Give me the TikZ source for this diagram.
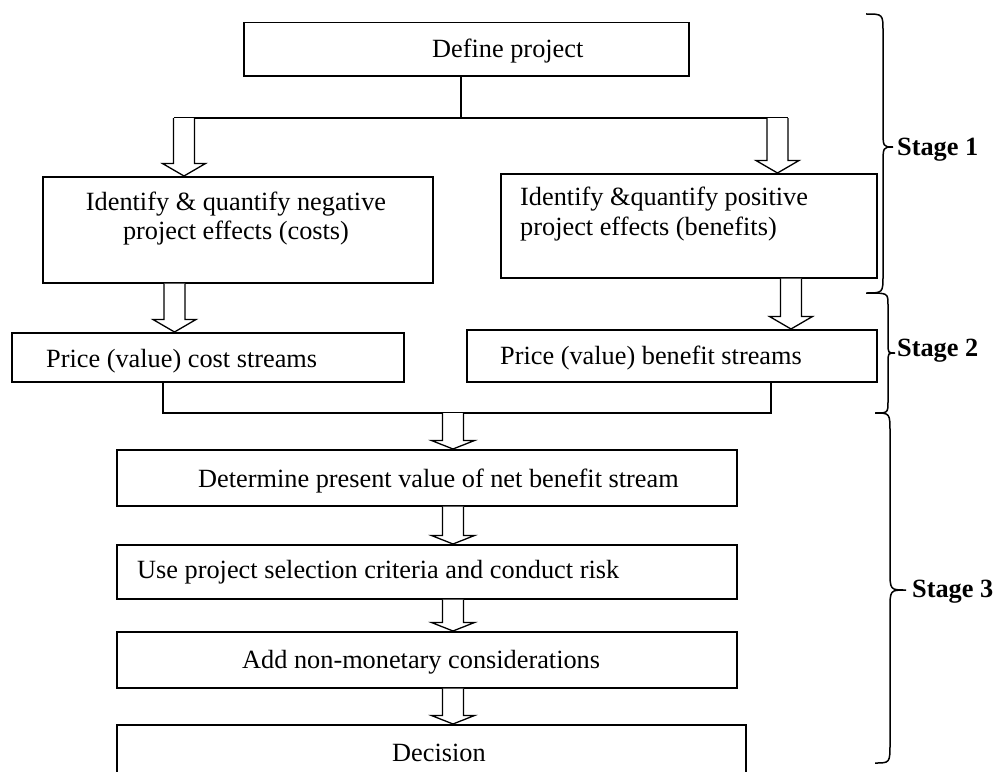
\documentclass[tikz,border=0pt]{standalone}
\usepackage{fontspec}
\setmainfont{Liberation Serif}
\usetikzlibrary{calc}
\begin{document}
\begin{tikzpicture}[x=1bp,y=-1bp,
  box/.style={draw, line width=1.5bp, rectangle, inner sep=0, anchor=north west},
  txt/.style={inner sep=0, anchor=base west, font=\fontsize{26.3bp}{30bp}\selectfont},
  stage/.style={txt, font=\fontsize{26.3bp}{30bp}\selectfont\bfseries},
  link/.style={draw, line width=1.4bp},
  brace/.style={draw, line width=1.5bp},
  blockarrow/.style={draw, line width=1.3bp, fill=white, line join=miter,
    to path={let \p1=(\tikztostart), \p2=(\tikztotarget) in
      (\x1-10.5bp,\y1) -- (\x1-10.5bp,\y2+#1) -- (\x1-21.5bp,\y2+#1) -- (\x1,\y2)
      -- (\x1+21.5bp,\y2+#1) -- (\x1+10.5bp,\y2+#1) -- (\x1+10.5bp,\y1)}},
  blockarrow/.default=12.5bp]

\useasboundingbox (0,0) rectangle (996,772);
\clip (0,0) rectangle (996,772);

% boxes
\node[box, minimum width=445bp, minimum height=53bp]  (def)  at (243,22)  {};
\node[box, minimum width=390bp, minimum height=106bp] (neg)  at (42,176)  {};
\node[box, minimum width=376bp, minimum height=104bp] (pos)  at (500,173) {};
\node[box, minimum width=392bp, minimum height=49bp]  (cost) at (11,332)  {};
\node[box, minimum width=410bp, minimum height=52bp]  (ben)  at (466,329) {};
\node[box, minimum width=620bp, minimum height=56bp]  (det)  at (116,449) {};
\node[box, minimum width=620bp, minimum height=54bp]  (use)  at (116,544) {};
\node[box, minimum width=620bp, minimum height=56bp]  (add)  at (116,631) {};
\node[box, minimum width=629bp, minimum height=80bp]  (dec)  at (116,724) {};

% box texts
\node[txt] (def-t)  at (432,58)  {Define project};
\node[txt, anchor=base] (neg-t1) at (236,210) {Identify \& quantify negative};
\node[txt, anchor=base] (neg-t2) at (236,239) {project effects (costs)};
\node[txt] (pos-t1) at (520,205) {Identify \&quantify positive};
\node[txt] (pos-t2) at (520,235) {project effects (benefits)};
\node[txt] (cost-t) at (46,367)  {Price (value) cost streams};
\node[txt] (ben-t)  at (500,364) {Price (value) benefit streams};
\node[txt] (det-t)  at (198,487) {Determine present value of net benefit stream};
\node[txt] (use-t)  at (137,578) {Use project selection criteria and conduct risk};
\node[txt] (add-t)  at (242,668) {Add non-monetary considerations};
\node[txt] (dec-t)  at (392,761) {Decision};

% branch and merge points
\coordinate (split)  at (461,118);
\coordinate (brL)    at (184,118);
\coordinate (brR)    at (777.5,118);
\coordinate (ax2)    at (174.5,0);
\coordinate (ax3)    at (791,0);
\coordinate (mergeL) at (163,413);
\coordinate (mergeR) at (771,413);
\coordinate (merge)  at (453,413);

% plain connectors
\draw[link] (def.south -| split) -- (split);
\draw[link] ($(brL)+(-10.5bp,0)$) -- ($(brR)+(10.5bp,0)$);
\draw[link] (cost.south -| mergeL) -- (mergeL) -- (mergeR) -- (ben.south -| mergeR);

% hollow block arrows
\draw[blockarrow] (brL) to (neg.north -| brL);
\draw[blockarrow] (brR) to (pos.north -| brR);
\draw[blockarrow] (neg.south -| ax2) to (cost.north -| ax2);
\draw[blockarrow] (pos.south -| ax3) to (ben.north -| ax3);
\draw[blockarrow=8.5bp] (merge) to (det.north -| merge);
\draw[blockarrow=8.5bp] (det.south -| merge) to (use.north -| merge);
\draw[blockarrow=8.5bp] (use.south -| merge) to (add.north -| merge);
\draw[blockarrow=8.5bp] (add.south -| merge) to (dec.north -| merge);

% stage braces
\draw[brace] (866,14) .. controls (883,14) .. (883,32) -- (883,129)
  .. controls (883,147) .. (893,147) .. controls (883,147) .. (883,165)
  -- (883,275) .. controls (883,293) .. (866,293);
\draw[brace] (867,293) .. controls (888,293) .. (888,305) -- (888,343)
  .. controls (888,353) .. (895,353) .. controls (888,353) .. (888,363)
  -- (888,401) .. controls (888,413) .. (875,413);
\draw[brace] (875,413) .. controls (890,413) .. (890,433) -- (890,570)
  .. controls (890,590) .. (906,590) .. controls (890,590) .. (890,610)
  -- (890,743) .. controls (890,763) .. (875,763);

\node[stage] (s1) at (897,155) {Stage 1};
\node[stage] (s2) at (897,356) {Stage 2};
\node[stage] (s3) at (912,597) {Stage 3};
\end{tikzpicture}
\end{document}
